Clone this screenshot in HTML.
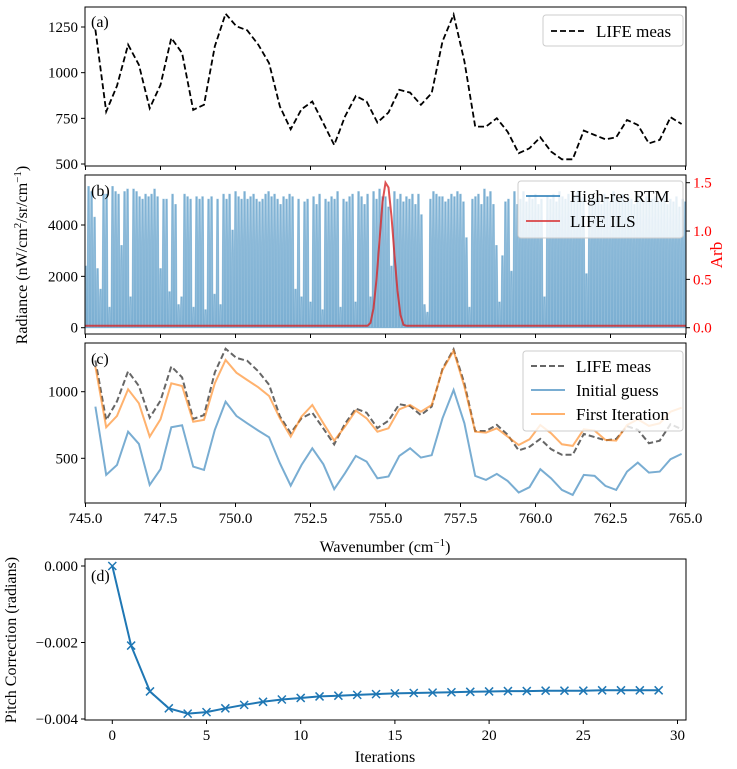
<!DOCTYPE html>
<html><head><meta charset="utf-8"><style>
body{margin:0;background:#fff}
svg{display:block;font-family:"Liberation Serif",serif}
svg text{font-family:"Liberation Serif",serif}
</style></head><body>
<svg id="fig" width="737" height="769" viewBox="0 0 737 769"></svg>
<script>
const wavenumbers=[745.33,745.69,746.05,746.42,746.78,747.14,747.50,747.86,748.22,748.59,748.95,749.31,749.67,750.03,750.39,750.76,751.12,751.48,751.84,752.20,752.56,752.93,753.29,753.65,754.01,754.37,754.73,755.10,755.46,755.82,756.18,756.54,756.90,757.27,757.63,757.99,758.35,758.71,759.07,759.44,759.80,760.16,760.52,760.88,761.24,761.61,761.97,762.33,762.69,763.05,763.41,763.78,764.14,764.50,764.87];
const lifeMeas=[1235,787,928,1153,1043,805,933,1190,1107,796,824,1144,1323,1254,1232,1153,1052,815,690,800,842,723,604,760,873,842,727,782,906,891,824,888,1171,1318,1062,705,705,751,677,559,586,646,568,526,526,683,659,635,646,741,714,613,632,756,719];
const initialGuess=[888,375,450,700,608,300,418,733,748,438,413,713,925,818,763,708,658,463,295,450,575,455,268,388,518,475,350,363,518,575,505,523,800,1013,763,368,338,383,330,243,283,418,350,263,225,375,368,293,263,400,468,393,400,493,533];
const firstIteration=[1188,733,818,1018,913,663,793,1063,1043,775,788,1063,1238,1143,1088,1033,968,800,663,813,900,763,633,738,858,800,700,725,868,900,850,900,1163,1308,1038,700,693,725,663,600,643,750,688,605,593,718,708,638,633,750,793,743,763,850,880];
const rtmStart=745.0, rtmStep=0.1;
const rtmValues=[2400,5500,5300,4300,2300,1500,5200,5200,800,5500,
5300,5200,3200,5300,5400,1200,5400,5300,5100,5000,
5200,5100,5200,5400,5100,2300,5000,5000,1400,5200,
4800,900,1200,5200,5100,5000,800,5100,5000,5100,
700,5000,5100,1300,5000,900,5200,5000,5200,3800,
5300,5100,5000,5300,5000,5100,5200,5000,4900,5000,
5200,5300,5100,5200,5000,4800,5100,5000,5200,5100,
1500,5000,1200,4900,5000,1000,5100,4800,5200,700,
5000,4900,5100,5000,5300,800,5000,4900,5100,5200,
1000,5300,5100,4800,5200,1200,5300,5000,5400,5100,
5100,4700,2400,5300,5000,5200,4900,5100,5000,5200,
4800,5200,4400,900,600,5000,5300,5200,5100,5100,
4900,5000,5200,5100,5300,5200,4900,3500,800,5000,
5100,5200,4800,5400,5100,5300,4800,3200,1000,2800,
4900,5000,2200,5300,4800,5000,5300,4900,5100,5000,
5200,4800,5000,1200,5100,5000,5200,4900,5300,5100,
5000,5200,4900,5100,5300,5000,5100,2100,4900,5200,
5000,5100,4800,5200,5000,4900,5300,5100,5000,5200,
4900,5100,5000,4800,5200,5000,4900,5100,5000,5000,
5100,4900,5000,5200,4800,5000,4900,5100,4700,5000,4900];
const ilsX=[745.0,754.4,754.5,754.6,754.7,754.8,754.9,755.0,755.1,755.2,755.3,755.4,755.5,755.6,755.7,765.0];
const ilsY=[0.02,0.02,0.05,0.2,0.5,0.9,1.3,1.5,1.45,1.15,0.75,0.38,0.13,0.03,0.02,0.02];
const iterations=[0,1,2,3,4,5,6,7,8,9,10,11,12,13,14,15,16,17,18,19,20,21,22,23,24,25,26,27,28,29];
const pitch=[0,-0.00208,-0.00328,-0.00372,-0.00386,-0.00382,-0.00372,-0.00363,-0.00355,-0.00349,-0.00345,-0.00341,-0.00339,-0.00337,-0.00335,-0.00333,-0.00332,-0.00331,-0.0033,-0.00329,-0.00328,-0.00327,-0.00327,-0.00326,-0.00326,-0.00326,-0.00325,-0.00325,-0.00325,-0.00325];
const waveTicks=[745,747.5,750,752.5,755,757.5,760,762.5,765];
const waveTickLabels=["745.0","747.5","750.0","752.5","755.0","757.5","760.0","762.5","765.0"];
const aTicks=[500,750,1000,1250];
const bTicks=[0,2000,4000];
const arbTicks=[0,0.5,1.0,1.5];
const cTicks=[500,1000];
const dTicks=[0,-0.002,-0.004];
const dTickLabels=["0.000","\u22120.002","\u22120.004"];
const iterTicks=[0,5,10,15,20,25,30];

const NS="http://www.w3.org/2000/svg";
const svg=document.getElementById('fig');
function mk(tag,attrs,parent){const e=document.createElementNS(NS,tag);for(const k in attrs)e.setAttribute(k,attrs[k]);(parent||svg).appendChild(e);return e;}
function txt(s,x,y,size,anchor,parent,fill){const t=mk('text',{x:x,y:y,'font-size':size,'font-family':'Liberation Serif, serif','text-anchor':anchor||'middle',fill:fill||'#000'},parent);t.textContent=s;return t;}
const L=85,R=686;
const xW=v=>L+(v-744.983)/(765.017-744.983)*(R-L);
const yA=v=>164-(v-500)/750*137;
const yB=v=>327.7-v/4000*102.7;
const yArb=v=>327.7-v/1.5*145;
const yC=v=>458.3-(v-500)/500*66.6;
const xD=v=>112.3+v*18.84;
const yD=v=>566+(-v)/0.002*76.5;

function frame(t,b,name,l,r){const g=mk('rect',{x:l||L,y:t,width:(r||R)-(l||L),height:b-t,fill:'none',stroke:'#000','stroke-width':1});}
function yTicks(ticks,labels,fy,parent){ticks.forEach((v,i)=>{const y=fy(v);mk('line',{x1:L-4,x2:L,y1:y,y2:y,stroke:'#000'},parent);txt(labels?labels[i]:String(v),L-7,y+5,15,'end',parent);});}
function xTicksW(top,bot,showLabels,parent){waveTicks.forEach((v,i)=>{const x=xW(v);mk('line',{x1:x,x2:x,y1:bot,y2:bot+4,stroke:'#000'},parent);if(showLabels)txt(waveTickLabels[i],x,bot+20,15,'middle',parent);});}
function poly(xs,ys,fx,fy,attrs,parent){const pts=xs.map((x,i)=>fx(x).toFixed(1)+','+fy(ys[i]).toFixed(1)).join(' ');return mk('polyline',Object.assign({points:pts,fill:'none'},attrs),parent);}

// Panel a
const ga=mk('g',{});
const la=poly(wavenumbers,lifeMeas,xW,yA,{stroke:'#000','stroke-width':1.8,'stroke-dasharray':'6,3'},ga);

frame(7,166,'panel-a-frame');
yTicks(aTicks,null,yA,ga);xTicksW(7,166,false,ga);
txt('(a)',91,27,16,'start',ga);
const lga=mk('g',{},ga);
mk('rect',{x:543,y:15,width:140,height:31,rx:3,fill:'#fff',stroke:'#ccc'},lga);
mk('line',{x1:551,x2:585,y1:31,y2:31,stroke:'#000','stroke-width':1.8,'stroke-dasharray':'6,3'},lga);
txt('LIFE meas',596,37,17,'start',lga);

// Panel b
const gb=mk('g',{});
const clipb=mk('clipPath',{id:'cb'});mk('rect',{x:L,y:175,width:R-L,height:159},clipb);
const gbd=mk('g',{'clip-path':'url(#cb)'},gb);
let d='';rtmValues.forEach((v,i)=>{const x=rtmStart+i*rtmStep;d+=`M${xW(x-0.05).toFixed(1)},${yB(0)} L${xW(x-0.025).toFixed(1)},${yB(v).toFixed(1)} L${xW(x+0.025).toFixed(1)},${yB(v).toFixed(1)} L${xW(x+0.05).toFixed(1)},${yB(0)} Z `;});
const rp=mk('path',{d:d,fill:'rgba(31,119,180,0.5)',stroke:'rgba(31,119,180,0.35)','stroke-width':1},gbd);

const ip=poly(ilsX,ilsY,xW,yArb,{stroke:'rgba(214,39,40,0.8)','stroke-width':2},gbd);

frame(175,334,'panel-b-frame');
yTicks(bTicks,null,yB,gb);xTicksW(175,334,false,gb);
arbTicks.forEach(v=>{const y=yArb(v);mk('line',{x1:R,x2:R+4,y1:y,y2:y,stroke:'#000'},gb);txt(v.toFixed(1),R+7,y+5,15,'start',gb,'#ff0000');});
txt('(b)',91,196,16,'start',gb);
const lgb=mk('g',{},gb);
mk('rect',{x:518,y:181,width:165,height:57,rx:3,fill:'rgba(255,255,255,0.8)',stroke:'#ccc'},lgb);
mk('line',{x1:526,x2:560,y1:196,y2:196,stroke:'#1f77b4','stroke-width':1.5},lgb);
txt('High-res RTM',570,202,17,'start',lgb);
mk('line',{x1:526,x2:560,y1:221,y2:221,stroke:'#d62728','stroke-width':1.5},lgb);
txt('LIFE ILS',570,227,17,'start',lgb);
const arb=txt('Arb',0,0,17,'middle',gb,'#ff0000');arb.setAttribute('transform','translate(722,255) rotate(-90)');

const ylab=mk('text',{'font-size':16,'font-family':'Liberation Serif, serif','text-anchor':'middle',transform:'translate(27,255) rotate(-90)'});
ylab.innerHTML='Radiance (nW/cm<tspan dy="-6" font-size="11">2</tspan><tspan dy="6">/sr/cm</tspan><tspan dy="-6" font-size="11">\u22121</tspan><tspan dy="6">)</tspan>';


// Panel c
const gc=mk('g',{});
const c1=poly(wavenumbers,initialGuess,xW,yC,{stroke:'#1f77b4','stroke-opacity':0.6,'stroke-width':2},gc);

const c2=poly(wavenumbers,lifeMeas,xW,yC,{stroke:'#000','stroke-opacity':0.6,'stroke-width':2,'stroke-dasharray':'6,3'},gc);

const c3=poly(wavenumbers,firstIteration,xW,yC,{stroke:'#ff7f0e','stroke-opacity':0.6,'stroke-width':2},gc);

frame(343,503,'panel-c-frame');
yTicks(cTicks,null,yC,gc);xTicksW(343,503,true,gc);
txt('(c)',91,364,16,'start',gc);
const lgc=mk('g',{},gc);
mk('rect',{x:523,y:351,width:160,height:80,rx:3,fill:'rgba(255,255,255,0.8)',stroke:'#ccc'},lgc);
mk('line',{x1:531,x2:565,y1:366,y2:366,stroke:'#000','stroke-opacity':0.6,'stroke-width':2,'stroke-dasharray':'6,3'},lgc);
txt('LIFE meas',576,372,17,'start',lgc);
mk('line',{x1:531,x2:565,y1:390,y2:390,stroke:'#1f77b4','stroke-opacity':0.6,'stroke-width':2},lgc);
txt('Initial guess',576,396,17,'start',lgc);
mk('line',{x1:531,x2:565,y1:414,y2:414,stroke:'#ff7f0e','stroke-opacity':0.6,'stroke-width':2},lgc);
txt('First Iteration',576,420,17,'start',lgc);
const xl=mk('text',{x:385,y:552,'font-size':16,'font-family':'Liberation Serif, serif','text-anchor':'middle'});
xl.innerHTML='Wavenumber (cm<tspan dy="-6" font-size="11">\u22121</tspan><tspan dy="6">)</tspan>';


// Panel d
const gd=mk('g',{});
const dl=poly(iterations,pitch,xD,yD,{stroke:'#1f77b4','stroke-width':2},gd);

iterations.forEach((it,i)=>{const x=xD(it),y=yD(pitch[i]);
const m=mk('path',{d:`M${x-4},${y-4}L${x+4},${y+4}M${x-4},${y+4}L${x+4},${y-4}`,stroke:'#1f77b4','stroke-width':1.5},gd);
});
frame(559,720,'panel-d-frame');
dTicks.forEach((v,i)=>{const y=yD(v);mk('line',{x1:L-4,x2:L,y1:y,y2:y,stroke:'#000'},gd);txt(dTickLabels[i],L-7,y+5,15,'end',gd);});
iterTicks.forEach(v=>{const x=xD(v);mk('line',{x1:x,x2:x,y1:720,y2:724,stroke:'#000'},gd);txt(String(v),x,740,15,'middle',gd);});
txt('(d)',91,581,16,'start',gd);
const il=txt('Iterations',385,762,16,'middle',gd);
const pl=txt('Pitch Correction (radians)',0,0,16,'middle',gd);pl.setAttribute('transform','translate(16,640) rotate(-90)');

</script>
</body></html>
